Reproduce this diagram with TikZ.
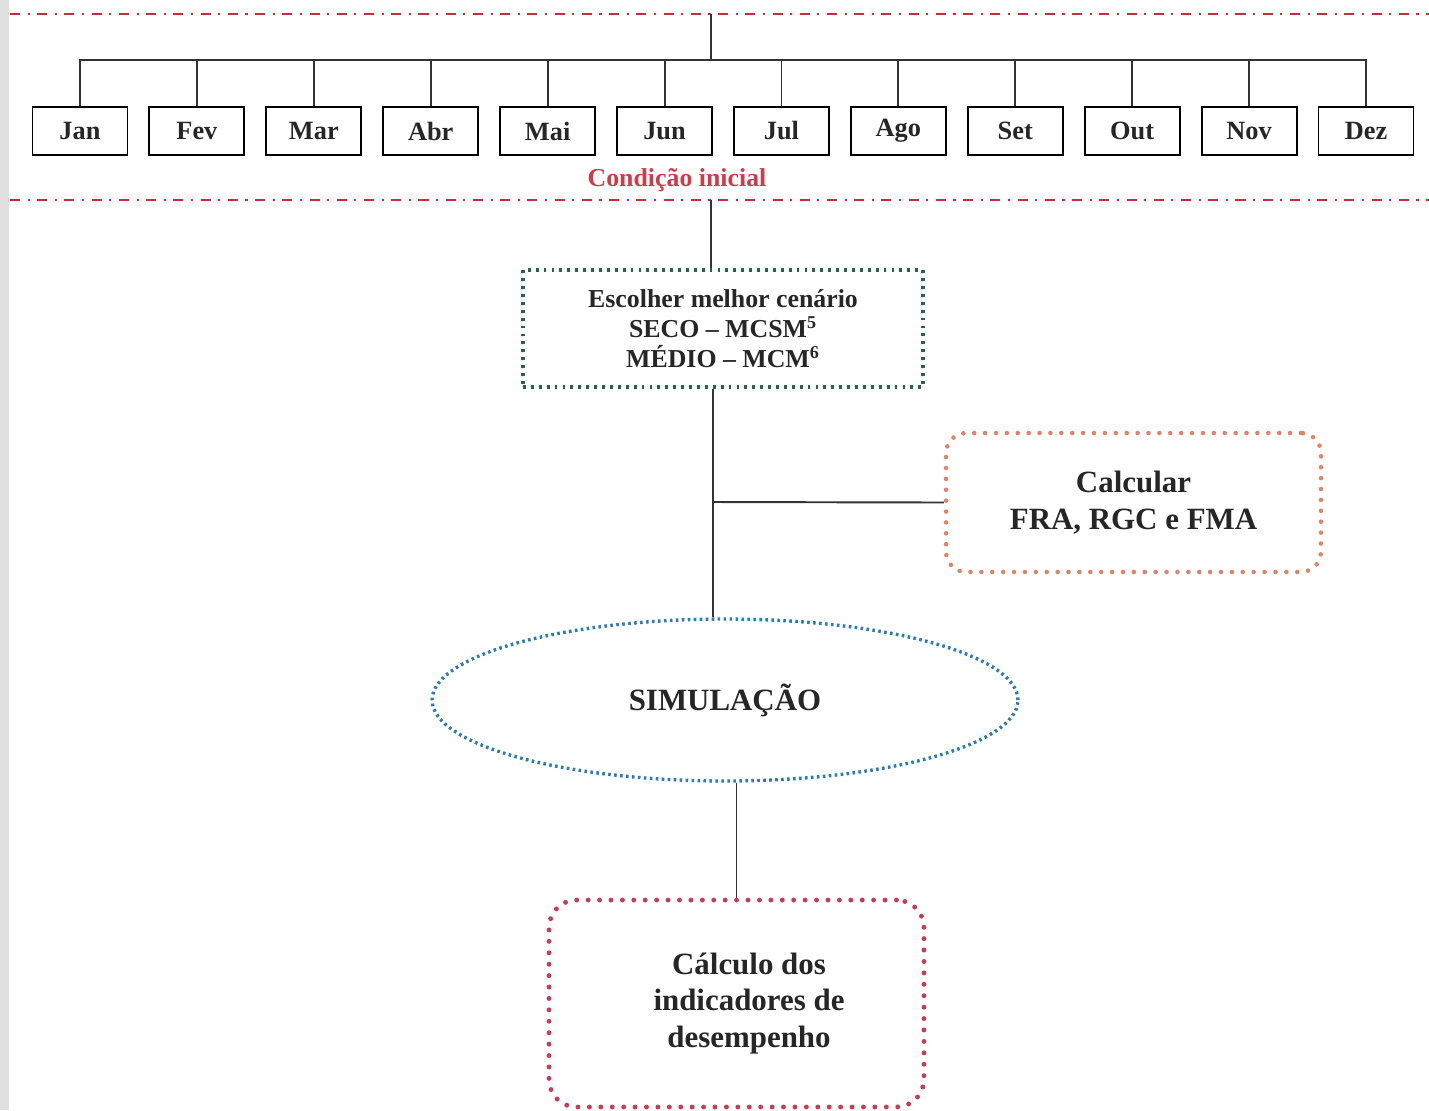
\documentclass[tikz,border=0pt]{standalone}
\usepackage{fontspec}
\setmainfont{Liberation Serif}
\usetikzlibrary{positioning, shapes.geometric}

\definecolor{condred}{RGB}{205,60,75}
\definecolor{sepred}{RGB}{200,45,60}
\definecolor{boxgreen}{RGB}{35,100,75}
\definecolor{boxorange}{RGB}{222,132,105}
\definecolor{simblue}{RGB}{45,125,175}
\definecolor{indred}{RGB}{200,60,85}

\begin{document}
\begin{tikzpicture}[
    x=0.02cm, y=-0.02cm,
    node distance=0.4cm,
    monthbox/.style={draw, line width=1.1pt, minimum width=1.9cm,
        minimum height=0.96cm, inner sep=0pt, text=black!85,
        font={\fontsize{15}{18}\selectfont\bfseries}},
    choosebox/.style={draw=boxgreen, line width=2pt, dash pattern=on 1.6pt off 2.9pt,
        minimum width=8cm, minimum height=2.34cm, align=center, text=black!85,
        font={\fontsize{14.7}{17}\selectfont\bfseries}},
    calcbox/.style={draw=boxorange, rounded corners=0.4cm, line width=2.6pt,
        line cap=round, dash pattern=on 0pt off 6.2pt, minimum width=7.5cm,
        minimum height=2.78cm, align=center, text=black!85,
        font={\fontsize{17.6}{21}\selectfont\bfseries}},
    simnode/.style={ellipse, draw=simblue, line width=1.9pt, dash pattern=on 1.5pt off 1.9pt,
        minimum width=11.72cm, minimum height=3.24cm, inner sep=0pt, text=black!85,
        font={\fontsize{17.6}{21}\selectfont\bfseries}},
    indbox/.style={draw=indred, rounded corners=0.55cm, line width=2.8pt,
        line cap=round, dash pattern=on 0pt off 6.5pt, minimum width=7.5cm,
        minimum height=4.14cm, align=center, text=black!85,
        font={\fontsize{17.6}{20.7}\selectfont\bfseries}},
    condlbl/.style={text=condred, font={\fontsize{14.7}{17}\selectfont\bfseries}},
    sepline/.style={sepred, line width=1.3pt,
        dash pattern=on 5.7pt off 4.3pt on 1.2pt off 4.3pt},
    conn/.style={line width=1.1pt, black!80},
]
    \useasboundingbox (0,0) rectangle (1429,1110);
    \fill[black!12] (0,0) rectangle (9,1110);

    \coordinate (sepL1) at (10,14);
    \coordinate (sepR1) at (1429,14);
    \coordinate (sepL2) at (10,200);
    \coordinate (sepR2) at (1429,200);
    \draw[sepline] (sepL1) -- (sepR1);
    \draw[sepline] (sepL2) -- (sepR2);

    \node[monthbox] (jan) at (80,131) {Jan};
    \node[monthbox, right=of jan] (fev) {Fev};
    \node[monthbox, right=of fev] (mar) {Mar};
    \node[monthbox, right=of mar] (abr) {Abr};
    \node[monthbox, right=of abr] (mai) {Mai};
    \node[monthbox, right=of mai] (jun) {Jun};
    \node[monthbox, right=of jun] (jul) {Jul};
    \node[monthbox, right=of jul] (ago) {Ago};
    \node[monthbox, right=of ago] (set) {Set};
    \node[monthbox, right=of set] (out) {Out};
    \node[monthbox, right=of out] (nov) {Nov};
    \node[monthbox, right=of nov] (dez) {Dez};

    \node[condlbl] (cond) at (677,180) {Condição inicial};

    \node[choosebox] (esc) at (723,328.5)
        {Escolher melhor cenário\\SECO -- MCSM\textsuperscript{5}\\MÉDIO -- MCM\textsuperscript{6}};
    \node[calcbox] (calc) at (1133.5,502.5) {Calcular\\FRA, RGC e FMA};
    \node[simnode] (sim) at (725,700) {\raisebox{-0.1cm}{SIMULAÇÃO}};
    \node[indbox] (ind) at (736.5,1003.5)
        {\hspace*{0.5cm}Cálculo dos\\\hspace*{0.5cm}indicadores de\\\hspace*{0.5cm}desempenho};

    \coordinate (bus) at (711,60);
    \coordinate (stem) at (711,200);
    \coordinate (split) at (713,502);

    \draw[conn] (sepL1 -| bus) -- (bus);
    \draw[conn] (jan.north) -- (jan.north |- bus) -- (dez.north |- bus) -- (dez.north);
    \foreach \m in {fev, mar, abr, mai, jun, jul, ago, set, out, nov}
        \draw[conn] (\m.north) -- (\m.north |- bus);

    \draw[conn] (stem) -- (stem |- esc.north);
    \draw[conn] (split |- esc.south) -- (split |- sim.north);
    \draw[conn] (split) -- (calc.west);
    \draw[conn] (ind.north |- sim.south) -- (ind.north);
\end{tikzpicture}
\end{document}
